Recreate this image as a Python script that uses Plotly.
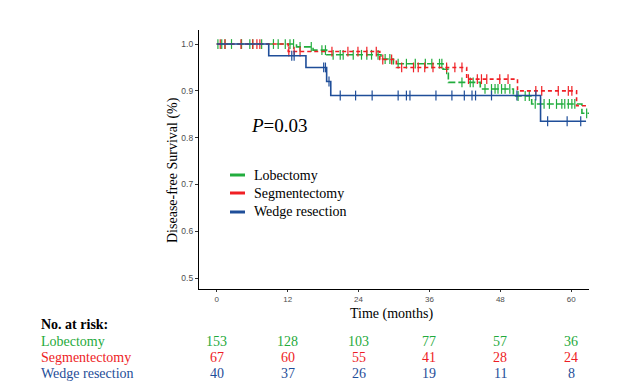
import numpy as np
import plotly.graph_objects as go

# ---------------- data ----------------
groups = ["Lobectomy", "Segmentectomy", "Wedge resection"]

lob_event_t = [13.5, 16.3, 18.6, 27.8, 29.9, 38.3, 39.2, 44.6, 50.2, 53.3, 61.8]
lob_event_s = [0.994, 0.987, 0.977, 0.968, 0.958, 0.946, 0.918, 0.904, 0.889, 0.872, 0.852]
lob_end = 63.0
lob_censor_t = [0.2, 0.85, 1.4, 2.5, 4.2, 5.6, 6.1, 7.6, 9.6, 10.4, 11.6, 12.4, 13.0,
                14.1, 16.0, 17.8, 18.4, 19.7, 20.9, 21.4, 23.1, 24.5, 25.4, 26.2, 27.3,
                28.5, 29.3, 30.7, 32.1, 33.6, 35.3, 36.4, 37.7, 38.1, 38.9,
                41.5, 42.9, 43.4, 45.4, 46.5, 47.1, 47.6, 48.2, 48.8, 49.6,
                51.0, 52.2, 52.9, 53.9, 55.4, 56.3, 57.5, 58.4, 58.9, 59.5, 60.1, 60.6, 62.6]

seg_event_t = [12.1, 27.6, 30.4, 42.3, 50.9, 60.9]
seg_event_s = [0.984, 0.967, 0.950, 0.925, 0.900, 0.868]
seg_end = 63.0
seg_censor_t = [0.6, 1.4, 4.1, 6.1, 6.8, 7.3, 12.2, 13.1, 14.1, 19.5, 22.2, 23.9, 25.4, 27.0,
                28.1, 29.6, 31.3, 33.3, 34.1, 35.2, 36.6, 38.9, 40.3, 41.5,
                42.6, 44.1, 44.8, 45.7, 47.9, 49.3, 54.0, 55.0, 57.8, 59.5, 60.1]

wed_event_t = [8.8, 15.1, 18.6, 19.3, 54.8]
wed_event_s = [0.975, 0.950, 0.920, 0.890, 0.835]
wed_end = 62.5
wed_censor_t = [12.7, 13.1, 18.1, 18.4, 19.0, 20.9, 23.5, 26.3, 30.7, 32.1, 32.7, 37.1, 39.8,
                41.9, 43.2, 43.8, 46.5, 50.8, 54.0, 56.0, 59.3, 61.6]

risk_times = [0, 12, 24, 36, 48, 60]
risk_lob = [153, 128, 103, 77, 57, 36]
risk_seg = [67, 60, 55, 41, 28, 24]
risk_wed = [40, 37, 26, 19, 11, 8]

p_text = "<i>P</i>=0.03"

# ---------------- styling ----------------
line_cols = ["#22ad3e", "#f01f24", "#1f4e99"]
text_cols = ["#1faa3c", "#ee1c25", "#1f4e99"]
dashes = ["7px,3px", "4px,3px", "solid"]
serif = "Liberation Serif, Times New Roman, serif"
sans = "Liberation Sans, Arial, sans-serif"

W, H = 641, 392
L, R, T, B = 199, 52, 30, 103
pw, ph = W - L - R, H - T - B


def px2paper_x(px):
    return (px - L) / pw


def px2paper_y(py):
    return (H - B - py) / ph


fig = go.Figure()

series = [
    (lob_event_t, lob_event_s, lob_end, lob_censor_t),
    (seg_event_t, seg_event_s, seg_end, seg_censor_t),
    (wed_event_t, wed_event_s, wed_end, wed_censor_t),
]

for i, (et, es, end, ct) in enumerate(series):
    xs = [0.0] + list(et) + [end]
    ys = [1.0] + list(es) + [es[-1]]
    fig.add_trace(go.Scatter(x=xs, y=ys, mode="lines", line_shape="hv",
                             line=dict(color=line_cols[i], width=1.6, dash=dashes[i]),
                             showlegend=False, hoverinfo="skip"))
    surv = np.array([1.0] + list(es))
    idx = np.searchsorted(np.array(et), np.array(ct), side="right")
    fig.add_trace(go.Scatter(x=ct, y=surv[idx], mode="markers",
                             marker=dict(symbol="line-ns-open", size=7, color=line_cols[i],
                                         line=dict(width=1.2, color=line_cols[i])),
                             showlegend=False, hoverinfo="skip"))

fig.update_layout(
    width=W, height=H,
    margin=dict(l=L, r=R, t=T, b=B, pad=0),
    paper_bgcolor="white", plot_bgcolor="white",
    showlegend=False,
    xaxis=dict(range=[-3, 63], tickvals=risk_times, ticks="outside", ticklen=2,
               tickcolor="#333333", tickwidth=1,
               showline=True, linecolor="black", linewidth=1.2, showgrid=False,
               zeroline=False, tickfont=dict(family=sans, size=8, color="#4d4d4d")),
    yaxis=dict(range=[0.4766, 1.03], tickvals=[0.5, 0.6, 0.7, 0.8, 0.9, 1.0],
               tickformat=".1f", ticks="outside", ticklen=3, tickcolor="#333333",
               tickwidth=1, showline=True, linecolor="black", linewidth=1.2,
               showgrid=False, zeroline=False,
               tickfont=dict(family=sans, size=8.5, color="#4d4d4d")),
)

ann = []


def add_ann(text, x, y, xref="paper", xanchor="center", size=14, color="black", **kw):
    ann.append(dict(text=text, xref=xref, yref="paper", x=x, y=y, xanchor=xanchor,
                    yanchor="middle", showarrow=False,
                    font=dict(family=serif, size=size, color=color), **kw))


# axis titles
add_ann("Time (months)", px2paper_x(391), px2paper_y(314))
add_ann("Disease-free Survival (%)", px2paper_x(173), px2paper_y(170), textangle=-90)
# p value
add_ann(p_text, px2paper_x(249), px2paper_y(125), xanchor="left", size=19)
# legend (drawn manually)
leg_rows = [175, 193, 212]
for i, g in enumerate(groups):
    fig.add_shape(type="line", xref="paper", yref="paper",
                  x0=px2paper_x(230), x1=px2paper_x(245),
                  y0=px2paper_y(leg_rows[i]), y1=px2paper_y(leg_rows[i]),
                  line=dict(color=line_cols[i], width=3))
    add_ann(g, px2paper_x(252), px2paper_y(leg_rows[i]), xanchor="left")
# risk table
add_ann("<b>No. at risk:</b>", px2paper_x(39), px2paper_y(324), xanchor="left")
rows_y = [341, 357, 373]
risk_all = [risk_lob, risk_seg, risk_wed]
for i, g in enumerate(groups):
    add_ann(g, px2paper_x(39), px2paper_y(rows_y[i]), xanchor="left", color=text_cols[i])
    for t, n in zip(risk_times, risk_all[i]):
        add_ann(str(n), t, px2paper_y(rows_y[i]), xref="x", color=text_cols[i])

fig.update_layout(annotations=ann)
fig.write_html("out.html")
